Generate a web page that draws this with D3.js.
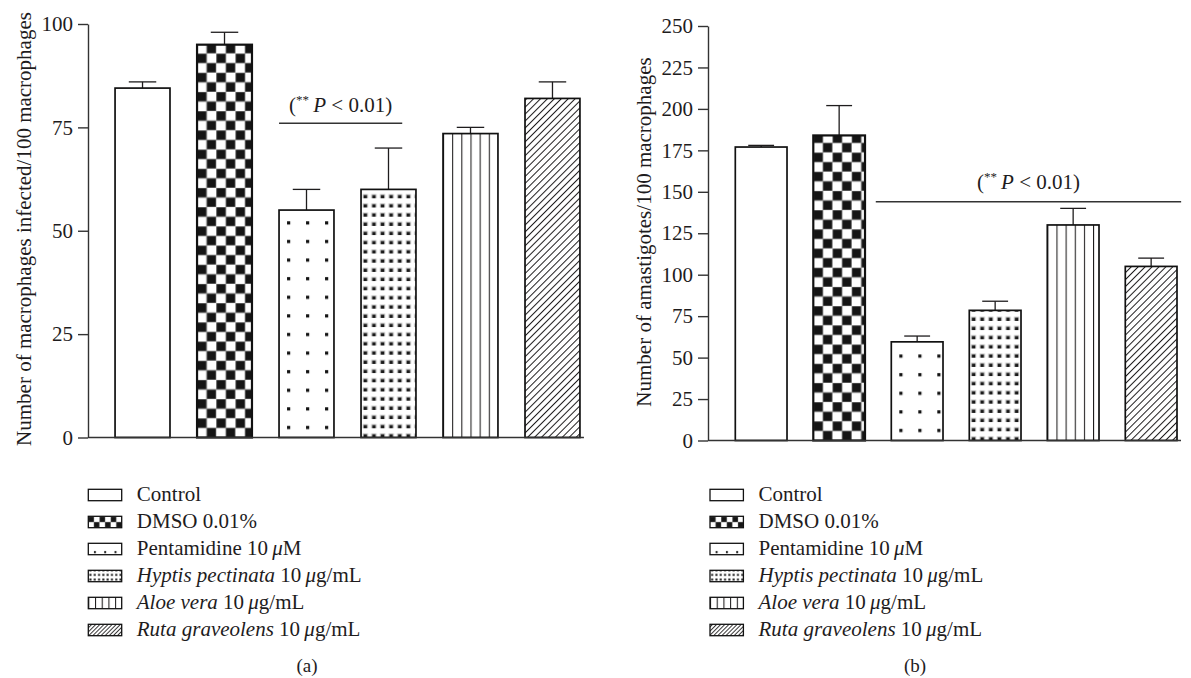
<!DOCTYPE html>
<html><head><meta charset="utf-8">
<script src="https://cdn.jsdelivr.net/npm/d3@7"></script>
<style>
body{margin:0;background:#fff;}
svg{display:block;font-family:"Liberation Serif","Times New Roman",serif;}
</style></head><body>
<svg id="chart" width="1191" height="678"></svg>
<script>
// ---------- data ----------
const categories = ["Control","DMSO 0.01%","Pentamidine 10 μM","Hyptis pectinata 10 μg/mL","Aloe vera 10 μg/mL","Ruta graveolens 10 μg/mL"];
const fillKinds = ["none","checker","sparseDots","denseDots","vlines","hatch"];
const infectedMeans  = [84.5, 95, 55, 60, 73.5, 82];
const infectedErrors = [1.5, 3, 5, 10, 1.5, 4];
const amastigoteMeans  = [177, 184, 59.5, 78.5, 130, 105];
const amastigoteErrors = [1, 18, 3.5, 5.5, 10, 5];
const infectedTicks   = [0, 25, 50, 75, 100];
const amastigoteTicks = [0, 25, 50, 75, 100, 125, 150, 175, 200, 225, 250];
const yTitles = ["Number of macrophages infected/100 macrophages", "Number of amastigotes/100 macrophages"];
const panelLabels = ["(a)", "(b)"];
const sigLevels = [76, 144];           // height (data units) of significance bar
const legendSegments = [
  [["Control", false]],
  [["DMSO 0.01%", false]],
  [["Pentamidine 10\u2009", false], ["μ", true], ["M", false]],
  [["Hyptis pectinata", true], [" 10\u2009", false], ["μ", true], ["g/mL", false]],
  [["Aloe vera", true], [" 10\u2009", false], ["μ", true], ["g/mL", false]],
  [["Ruta graveolens", true], [" 10\u2009", false], ["μ", true], ["g/mL", false]]
];

// ---------- drawing ----------
const svg = d3.select("#chart");
const defs = svg.append("defs");
const INK = "#1e1c1d";
const AXIS = "#333";
const FONT = 21;

function addPattern(id, kind, ox, oy, small) {
  const p = defs.append("pattern").attr("id", id).attr("patternUnits", "userSpaceOnUse")
    .attr("x", ox).attr("y", oy);
  if (kind === "checker") {
    const c = small ? 5.6 : 9.6;
    p.attr("width", 2 * c).attr("height", 2 * c);
    p.append("rect").attr("width", 2 * c).attr("height", 2 * c).attr("fill", "#fff");
    [[0, 0], [c, c]].forEach(([x, y]) => p.append("rect").attr("x", x).attr("y", y)
      .attr("width", c).attr("height", c).attr("fill", "#151515")
      .attr("stroke", "#8a8a8a").attr("stroke-width", small ? 0.4 : 0.8));
  } else if (kind === "sparseDots") {
    const w = small ? 10.3 : 19, h = small ? 11.4 : 18.6, d = small ? 2 : 3.2;
    p.attr("width", w).attr("height", h);
    p.append("rect").attr("width", w).attr("height", h).attr("fill", "#fff");
    p.append("rect").attr("x", (small ? 6.6 : 9.6) - d / 2).attr("y", h - (small ? 2.6 : 10) - d / 2)
      .attr("width", d).attr("height", d).attr("fill", "#111");
  } else if (kind === "denseDots") {
    const w = small ? 4.3 : 8.6, h = small ? 4.6 : 9.2, d = small ? 2 : 3.4;
    p.attr("width", w).attr("height", h);
    p.append("rect").attr("width", w).attr("height", h).attr("fill", "#fff");
    if (!small) p.append("rect").attr("x", w / 2 - d / 2 - 1).attr("y", h - 1.5 - d / 2 - 1)
      .attr("width", d + 2).attr("height", d + 2).attr("fill", "#c8c8c8");
    p.append("rect").attr("x", w / 2 - d / 2).attr("y", h - (small ? 2.2 : 1.5) - d / 2)
      .attr("width", d).attr("height", d).attr("fill", "#1a1a1a");
  } else if (kind === "vlines") {
    const w = small ? 6.7 : 9.15;
    p.attr("width", w).attr("height", 10);
    p.append("rect").attr("width", w).attr("height", 10).attr("fill", "#fff");
    p.append("line").attr("x1", 0.5).attr("x2", 0.5).attr("y1", 0).attr("y2", 10)
      .attr("stroke", INK).attr("stroke-width", 1.1);
  } else if (kind === "hatch") {
    const w = small ? 2.9 : 4.9;
    p.attr("width", w).attr("height", 10).attr("patternTransform", "rotate(45)");
    p.append("rect").attr("width", w).attr("height", 10).attr("fill", "#fff");
    p.append("line").attr("x1", 0.5).attr("x2", 0.5).attr("y1", 0).attr("y2", 10)
      .attr("stroke", INK).attr("stroke-width", small ? 0.9 : 1);
  }
  return `url(#${id})`;
}

const panels = [
  {key: "a", means: infectedMeans, errors: infectedErrors, ticks: infectedTicks, max: 100,
   axisX: 88, yTop: 24, yBottom: 437.5, rangeEnd: 607, padIn: 0.33, padOut: 0.33,
   titleX: 31, titleY: 229, labelX: 307, legendX: 88.3,
   sigStart: 0, sigEndFrac: 0.75, sigFrom: 2, sigTo: 3, sigLift: 11},
  {key: "b", means: amastigoteMeans, errors: amastigoteErrors, ticks: amastigoteTicks, max: 250,
   axisX: 708, yTop: 26, yBottom: 440.5, rangeEnd: 1204.3, padIn: 0.337, padOut: 0.35,
   titleX: 651, titleY: 232, labelX: 915, legendX: 710,
   sigStart: -0.3, sigEndFrac: 1.08, sigFrom: 2, sigTo: 5, sigLift: 13}
];

panels.forEach((P, pi) => {
  const g = svg.append("g");
  const x = d3.scaleBand().domain(categories).range([P.axisX, P.rangeEnd])
    .paddingInner(P.padIn).paddingOuter(P.padOut);
  const y = d3.scaleLinear().domain([0, P.max]).range([P.yBottom, P.yTop]);
  const bw = x.bandwidth();

  // bars
  categories.forEach((c, i) => {
    const x0 = x(c), y0 = y(P.means[i]);
    const fill = fillKinds[i] === "none" ? "#fff" : addPattern(`pat-${P.key}-${i}`, fillKinds[i], x0, y(0), false);
    // error bar
    const ye = y(P.means[i] + P.errors[i]);
    g.append("line").attr("x1", x0 + bw / 2).attr("x2", x0 + bw / 2).attr("y1", y0).attr("y2", ye)
      .attr("stroke", INK).attr("stroke-width", 1.3);
    g.append("line").attr("x1", x0 + bw / 4).attr("x2", x0 + 3 * bw / 4).attr("y1", ye).attr("y2", ye)
      .attr("stroke", INK).attr("stroke-width", 1.3);
    g.append("rect").attr("x", x0).attr("y", y0).attr("width", bw).attr("height", y(0) - y0)
      .attr("fill", fill).attr("stroke", "#111").attr("stroke-width", fillKinds[i] === "checker" ? 2.2 : 1.7);
  });

  // baseline
  const lastRight = x(categories[categories.length - 1]) + bw;
  g.append("line").attr("x1", P.axisX).attr("x2", lastRight + 4).attr("y1", y(0)).attr("y2", y(0))
    .attr("stroke", AXIS).attr("stroke-width", 1.4);

  // y axis
  const ax = g.append("g").attr("transform", `translate(${P.axisX},0)`)
    .call(d3.axisLeft(y).tickValues(P.ticks).tickSize(10).tickSizeOuter(0).tickPadding(5).tickFormat(d3.format("d")));
  ax.selectAll("path,line").attr("stroke", AXIS).attr("stroke-width", 1.4);
  ax.selectAll("text").attr("font-size", FONT).attr("font-family", "Liberation Serif, serif").attr("fill", INK);

  // y title
  g.append("text").attr("transform", `translate(${P.titleX},${P.titleY}) rotate(-90)`)
    .attr("text-anchor", "middle").attr("font-size", FONT).attr("fill", INK).text(yTitles[pi]);

  // significance bar
  const sx1 = x(categories[P.sigFrom]) + P.sigStart * bw;
  const sx2 = x(categories[P.sigTo]) + P.sigEndFrac * bw;
  const sy = y(sigLevels[pi]);
  g.append("line").attr("x1", sx1).attr("x2", sx2).attr("y1", sy).attr("y2", sy)
    .attr("stroke", AXIS).attr("stroke-width", 1.3);
  const st = g.append("text").attr("x", (sx1 + sx2) / 2).attr("y", sy - P.sigLift)
    .attr("text-anchor", "middle").attr("font-size", FONT).attr("fill", INK);
  st.append("tspan").text("(");
  st.append("tspan").attr("font-size", 13).attr("dy", -8).text("**");
  st.append("tspan").attr("dy", 8).attr("font-style", "italic").text("\u2009P");
  st.append("tspan").text(" < 0.01)");

  // legend
  categories.forEach((c, i) => {
    const top = 489.3 + i * 27;
    const fill = fillKinds[i] === "none" ? "#fff" : addPattern(`leg-${P.key}-${i}`, fillKinds[i], P.legendX, top + 11.4, true);
    g.append("rect").attr("x", P.legendX).attr("y", top).attr("width", 33.4).attr("height", 11.4)
      .attr("fill", fill).attr("stroke", "#111").attr("stroke-width", 1.3);
    const t = g.append("text").attr("x", P.legendX + 48.5).attr("y", top + 12).attr("font-size", FONT).attr("fill", INK);
    legendSegments[i].forEach(([s, it]) => t.append("tspan").attr("font-style", it ? "italic" : "normal").text(s));
  });

  // panel label
  g.append("text").attr("x", P.labelX).attr("y", 672).attr("text-anchor", "middle")
    .attr("font-size", FONT - 2).attr("fill", INK).text(panelLabels[pi]);
});
</script>
</body></html>
